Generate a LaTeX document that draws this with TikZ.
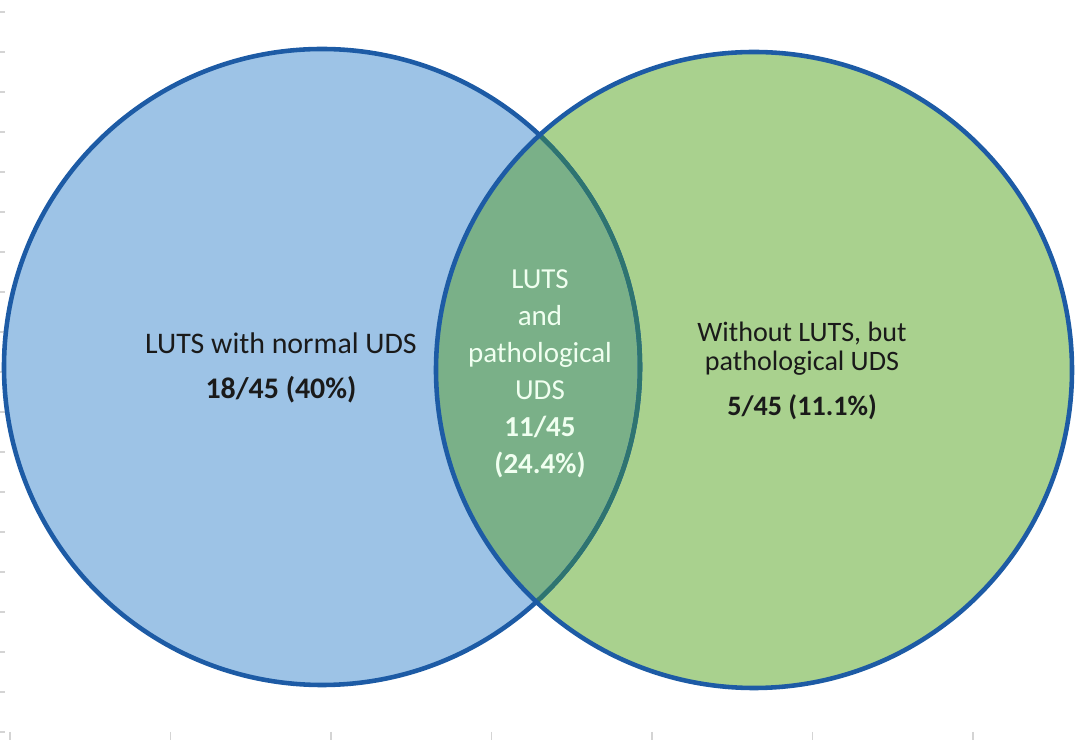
\documentclass[tikz,border=0pt]{standalone}
\usepackage{fontspec}
\setmainfont{Carlito}
\usetikzlibrary{positioning}
\definecolor{lutsblue}{HTML}{9DC3E6}
\definecolor{udsgreen}{HTML}{A9D18E}
\definecolor{bothgreen}{HTML}{7AB088}
\definecolor{rimblue}{HTML}{1D5BA5}
\definecolor{rimteal}{HTML}{2E7470}
\definecolor{tickgray}{HTML}{D4D4D4}
\definecolor{inktxt}{HTML}{1A1A1A}
\tikzset{
  rim/.style={draw=rimblue,line width=2.6pt},
  sidetxt/.style={align=center,inner sep=0pt,text=inktxt},
  midtxt/.style={align=center,inner sep=0pt,text=white!94!green,font=\fontsize{16.5}{21}\selectfont},
  faint/.style={draw=tickgray,line width=0.6pt}
}
\begin{document}
\begin{tikzpicture}[x=0.02cm,y=-0.02cm]
\useasboundingbox (0,0) rectangle (1080,742);
% faint axis ticks
\foreach \k in {0,...,18} \draw[faint] (0,12+40*\k) -- (5,12+40*\k);
\foreach \k in {0,...,6} \draw[faint] (10+160.5*\k,732) -- (10+160.5*\k,740);
% the two sets
\coordinate (L) at (322,367);
\coordinate (R) at (754,370);
\fill[lutsblue] (L) circle (318);
\fill[udsgreen] (R) circle (318);
\begin{scope}
\clip (L) circle (318);
\fill[bothgreen] (R) circle (318);
\end{scope}
\draw[rim] (L) circle (318);
\begin{scope}
\clip (R) circle (318);
\draw[rim,draw=rimteal] (L) circle (318);
\end{scope}
\draw[rim] (R) circle (318);
% texts
\node[sidetxt,font=\fontsize{17}{26}\selectfont] (normal) at (281,368)
  {LUTS with normal UDS\\\textbf{18/45 (40\%)}};
\node[midtxt] (both) at (540,374)
  {LUTS\\and\\pathological\\UDS\\\textbf{11/45}\\\textbf{(24.4\%)}};
\node[sidetxt,font=\fontsize{16}{16.5}\selectfont] (patho) at (802,371)
  {Without LUTS, but\\pathological UDS\\[9pt]\textbf{5/45 (11.1\%)}};
\end{tikzpicture}
\end{document}
